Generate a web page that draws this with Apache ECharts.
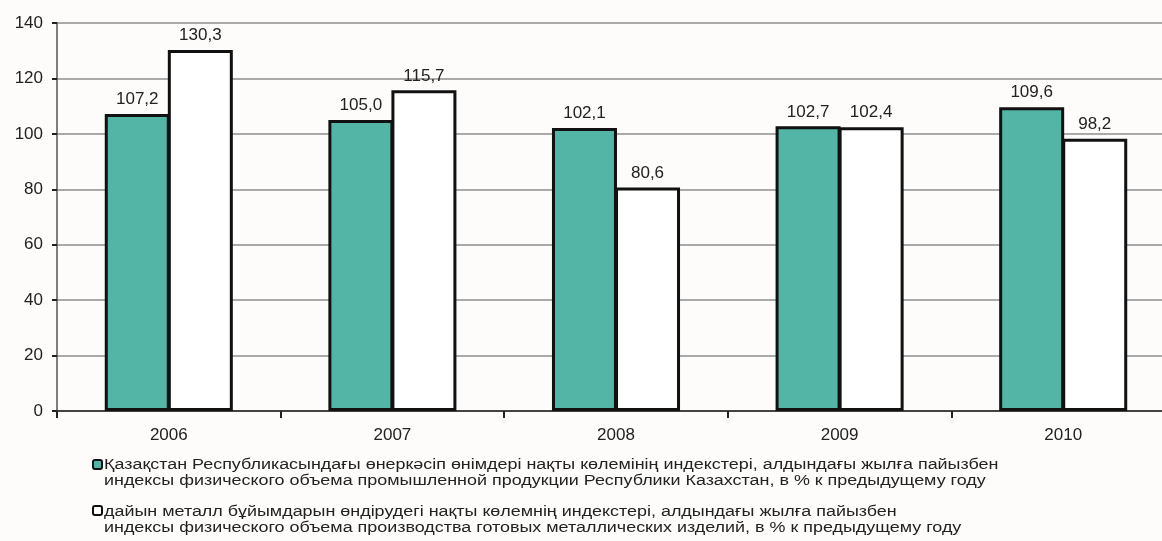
<!DOCTYPE html>
<html><head><meta charset="utf-8">
<script src="https://cdn.jsdelivr.net/npm/echarts@6/dist/echarts.min.js"></script>
<style>html,body{margin:0;padding:0;background:#fdfcfb;overflow:hidden}#c{width:1176px;height:541px}</style>
</head><body><div id="c"></div>
<script>
const categories = ['2006','2007','2008','2009','2010'];
const series1Name = 'Қазақстан Республикасындағы өнеркәсіп өнімдері нақты көлемінің индекстері, алдындағы жылға пайызбен\nиндексы физического объема промышленной продукции Республики Казахстан, в % к предыдущему году';
const series2Name = 'дайын металл бұйымдарын өндірудегі нақты көлемнің индекстері, алдындағы жылға пайызбен\nиндексы физического объема производства готовых металлических изделий, в % к предыдущему году';
const series1Values = [107.2, 105.0, 102.1, 102.7, 109.6];
const series2Values = [130.3, 115.7, 80.6, 102.4, 98.2];
const yTicks = [0, 20, 40, 60, 80, 100, 120, 140];

const chart = echarts.init(document.getElementById('c'));
const font = 'Liberation Sans, Arial, sans-serif';
const lbl = {show:true, position:'top', distance:6, color:'#222', fontSize:17, fontFamily:font,
  formatter: p => p.value.toFixed(1).replace('.', ',')};
chart.setOption({
  backgroundColor:'#fdfcfb',
  animation:false,
  grid:{left:57, right:1, top:23, bottom:130},
  xAxis:{type:'category', data:categories,
    axisLine:{lineStyle:{color:'#444', width:2}},
    axisTick:{show:true, length:7, lineStyle:{color:'#222', width:2}},
    axisLabel:{color:'#222', fontSize:17, fontFamily:font, margin:16}},
  yAxis:{type:'value', min:yTicks[0], max:yTicks[yTicks.length-1], interval:20,
    axisLine:{show:true, lineStyle:{color:'#555', width:1.5}},
    axisTick:{show:true, length:5, lineStyle:{color:'#222', width:2}},
    axisLabel:{color:'#222', fontSize:17, fontFamily:font, margin:14},
    splitLine:{show:true, lineStyle:{color:'#aaaaaa', width:2}}},
  series:[
    {name:series1Name, type:'bar', data:series1Values, barWidth:65, barGap:'-3%',
      itemStyle:{color:'#52b5a5', borderColor:'#111', borderWidth:3}, label:lbl},
    {name:series2Name, type:'bar', data:series2Values, barWidth:65,
      itemStyle:{color:'#ffffff', borderColor:'#111', borderWidth:3}, label:lbl}
  ],
  graphic:[
    {type:'rect', left:92, top:459, shape:{width:9, height:9, r:2}, style:{fill:'#52b5a5', stroke:'#111', lineWidth:2}},
    {type:'text', x:104, y:457, scaleX:1.28, style:{text:series1Name, font:'14px '+font, fill:'#222', lineHeight:16}},
    {type:'rect', left:92, top:505, shape:{width:9, height:9, r:2}, style:{fill:'#fff', stroke:'#111', lineWidth:2}},
    {type:'text', x:104, y:504, scaleX:1.28, style:{text:series2Name, font:'14px '+font, fill:'#222', lineHeight:16}}
  ]
});
</script></body></html>
